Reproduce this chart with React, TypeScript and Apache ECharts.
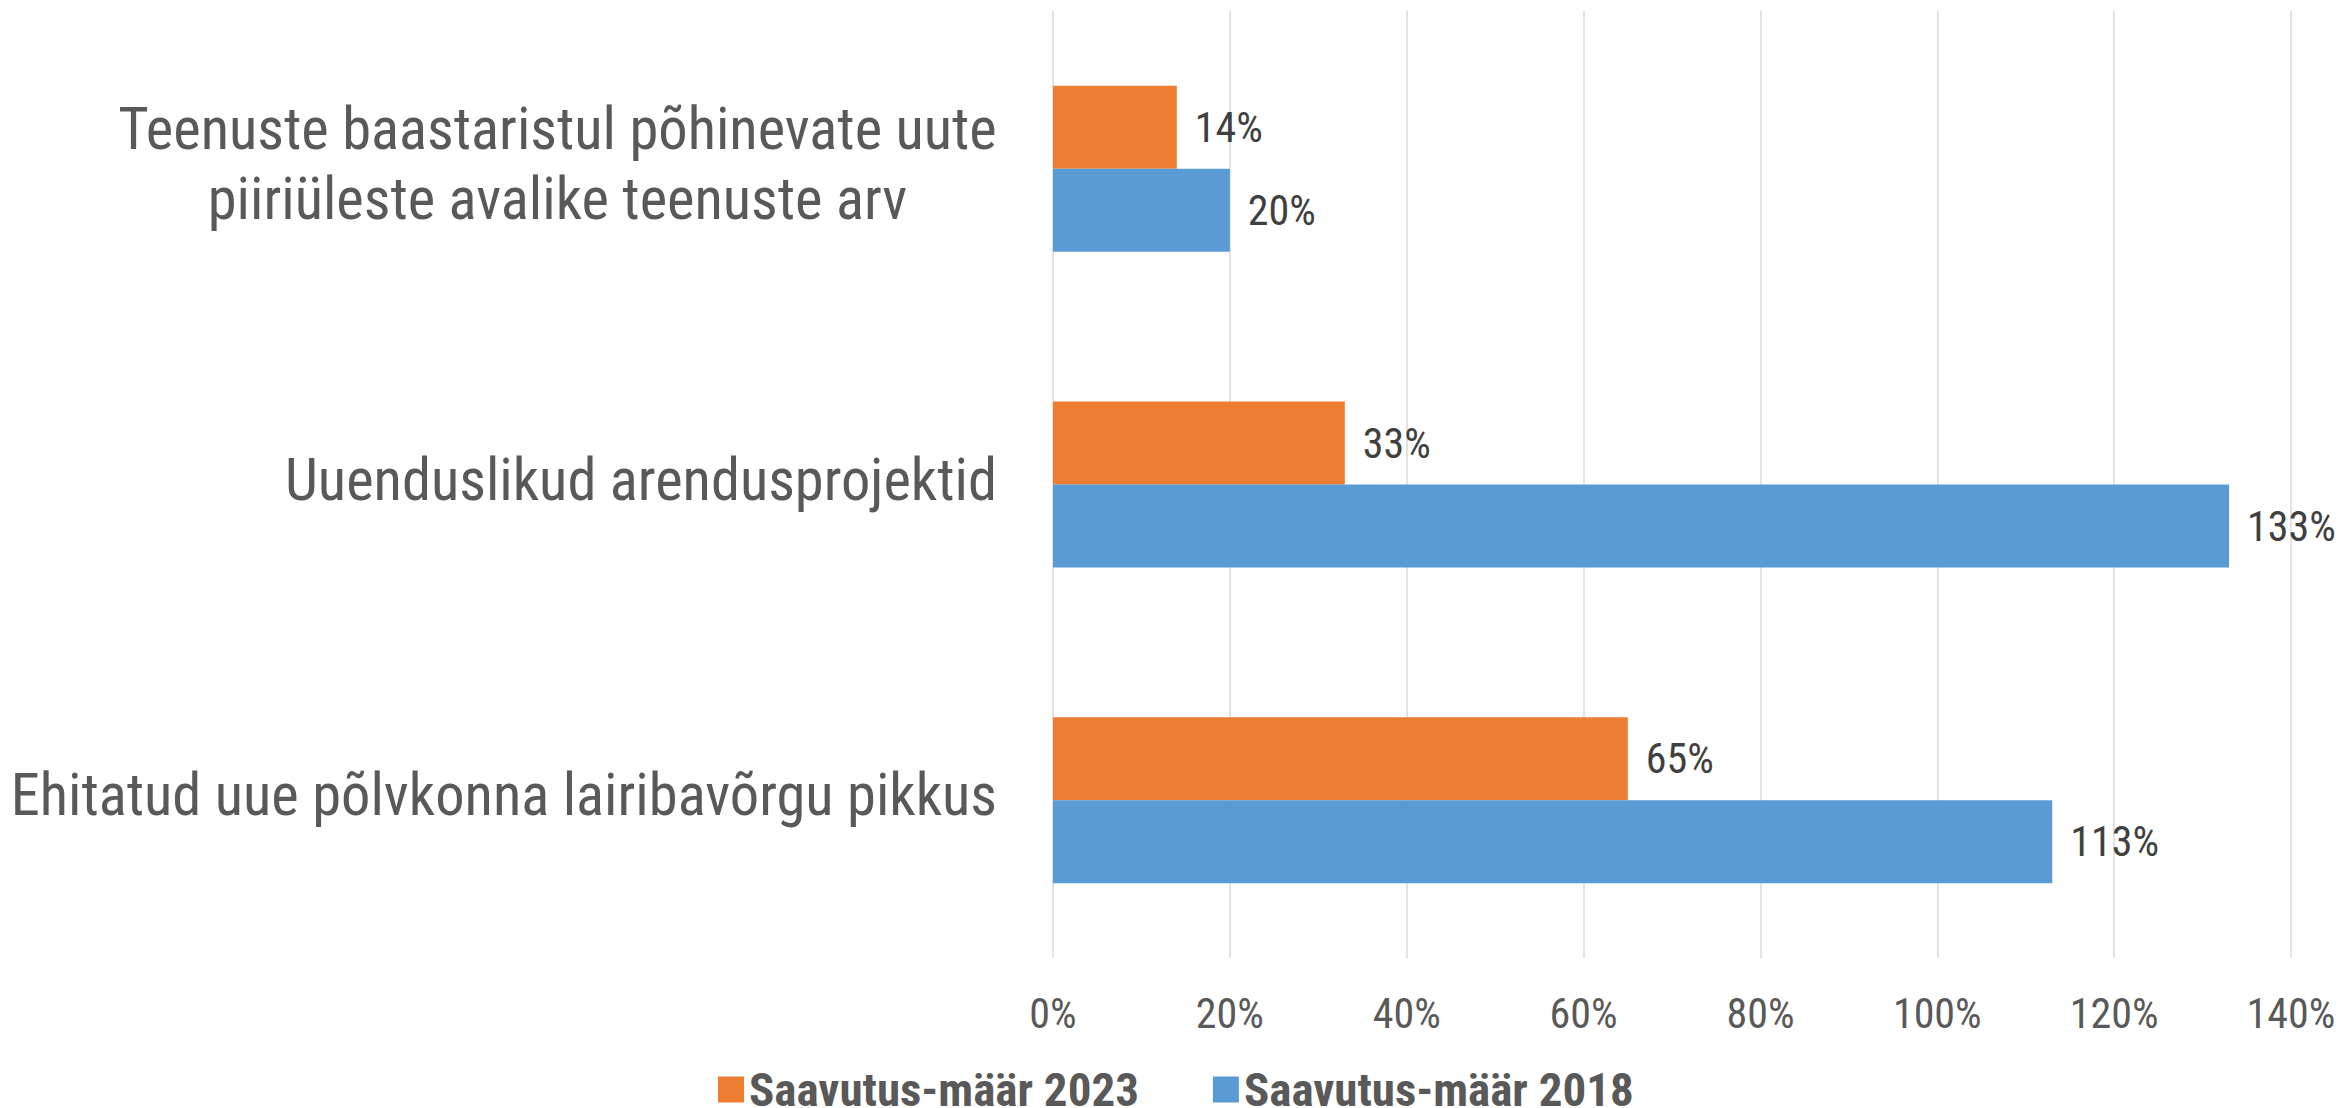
import React, { useEffect, useRef } from "react";
import * as echarts from "echarts";

const categories = [
  "Teenuste baastaristul põhinevate uute\npiiriüleste avalike teenuste arv",
  "Uuenduslikud arendusprojektid",
  "Ehitatud uue põlvkonna lairibavõrgu pikkus",
];
const seriesNames = ["Saavutus-määr 2023", "Saavutus-määr 2018"];
const values2023 = [14, 33, 65];
const values2018 = [20, 133, 113];
const axisMin = 0;
const axisMax = 140;
const axisStep = 20;

const FONT = "'Roboto Condensed', 'Liberation Sans Narrow', 'Arial Narrow', 'DejaVu Sans Condensed', Roboto, sans-serif";
const CAT_SIZE = 58.5;

function measure(text: string, size: number): number {
  const c = document.createElement("canvas");
  const ctx = c.getContext("2d");
  if (!ctx) return 880;
  ctx.font = `${size}px ${FONT}`;
  return Math.ceil(ctx.measureText(text).width);
}

export default function App() {
  const ref = useRef<HTMLDivElement>(null);
  useEffect(() => {
    if (!ref.current) return;
    const chart = echarts.init(ref.current, null, { renderer: "svg" });
    const longest = Math.max(...categories.filter((c) => c.includes("\n")).flatMap((c) => c.split("\n")).map((l) => measure(l, CAT_SIZE)));
    const catStyle = { fontSize: CAT_SIZE, fontFamily: FONT, color: "#595959", lineHeight: 70 };
    chart.setOption({
      animation: false,
      backgroundColor: "#ffffff",
      color: ["#ED7D31", "#5B9BD5"],
      grid: { left: 1053, right: 54, top: 11, bottom: 150, containLabel: false, outerBoundsMode: "none" },
      legend: {
        data: seriesNames,
        left: 713,
        top: 1061,
        itemWidth: 26,
        itemHeight: 26,
        itemGap: 74,
        icon: "rect",
        textStyle: { fontSize: 47, fontWeight: "bold", fontFamily: FONT, color: "#595959" },
      },
      xAxis: {
        type: "value",
        min: axisMin,
        max: axisMax,
        interval: axisStep,
        axisLine: { show: false },
        axisTick: { show: false },
        splitLine: { show: true, lineStyle: { color: "#D9D9D9", width: 1.5 } },
        axisLabel: {
          formatter: (v: number) => `${v}%`,
          fontSize: 42,
          fontFamily: FONT,
          color: "#595959",
          margin: 34,
        },
      },
      yAxis: {
        type: "category",
        data: categories,
        inverse: true,
        axisLine: { show: false },
        axisTick: { show: false },
        axisLabel: {
          margin: 56,
          align: "right",
          padding: [0, 0, 10, 0],
          formatter: (v: string) =>
            v.includes("\n")
              ? v.split("\n").map((l) => `{m|${l}}`).join("\n")
              : `{s|${v}}`,
          rich: {
            m: { ...catStyle, width: longest, align: "center" },
            s: { ...catStyle },
          },
        },
      },
      series: [
        {
          name: seriesNames[0],
          type: "bar",
          data: values2023,
          barWidth: 83,
          barGap: "0%",
          label: { show: true, position: "right", distance: 18, formatter: "{c}%", fontSize: 42, fontFamily: FONT, color: "#404040" },
        },
        {
          name: seriesNames[1],
          type: "bar",
          data: values2018,
          barWidth: 83,
          barGap: "0%",
          label: { show: true, position: "right", distance: 18, formatter: "{c}%", fontSize: 42, fontFamily: FONT, color: "#404040" },
        },
      ],
    });
    return () => chart.dispose();
  }, []);
  return <div ref={ref} style={{ position: "fixed", left: 0, top: 0, width: 2345, height: 1108 }} />;
}
